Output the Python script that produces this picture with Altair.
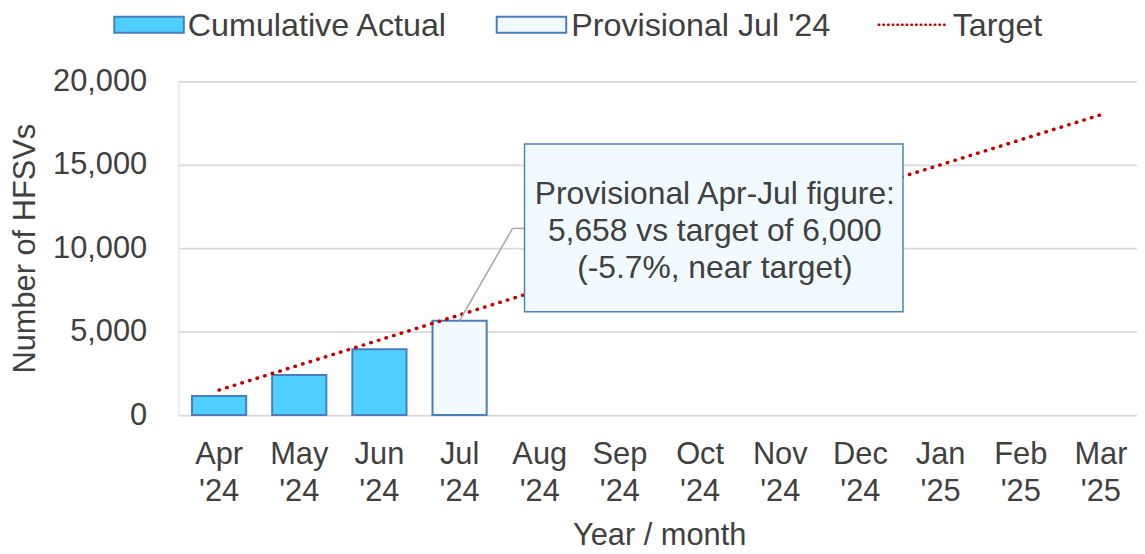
import altair as alt
import pandas as pd

# ---------------- data ----------------
months = ["Apr '24", "May '24", "Jun '24", "Jul '24", "Aug '24", "Sep '24",
          "Oct '24", "Nov '24", "Dec '24", "Jan '25", "Feb '25", "Mar '25"]
target_values = [1500, 3000, 4500, 6000, 7500, 9000,
                 10500, 12000, 13500, 15000, 16500, 18000]
actual_months = ["Apr '24", "May '24", "Jun '24", "Jul '24"]
actual_values = [1150, 2400, 3950, 5658]
actual_status = ["Cumulative Actual", "Cumulative Actual", "Cumulative Actual",
                 "Provisional Jul '24"]
y_ticks = [0, 5000, 10000, 15000, 20000]
legend_labels = ["Cumulative Actual", "Provisional Jul '24", "Target"]
note_lines = ["Provisional Apr-Jul figure:", "5,658 vs target of 6,000",
              "(-5.7%, near target)"]

# ---------------- style ----------------
FONT = "Liberation Sans"
TXT = "#404040"
GRID = "#D9D9D9"
BAR_FILL = "#4FCFFF"
PROV_FILL = "#F2FAFF"
BAR_STROKE = "#4A7EBB"
RED = "#C00000"

df_bars = pd.DataFrame({"month": actual_months, "value": actual_values,
                        "status": actual_status})
df_target = pd.DataFrame({"month": months, "value": target_values})
df_leader = df_bars[df_bars["status"] == "Provisional Jul '24"]
one = pd.DataFrame({"a": [0]})

xscale = alt.Scale(domain=months, paddingInner=0.324, paddingOuter=0.169,
                   range=[0, 969.6])
xenc = alt.X("month:N", sort=months, scale=xscale,
             axis=alt.Axis(title="Year / month", labelAngle=0,
                           labelExpr="split(datum.label, ' ')",
                           labelFontSize=31, labelLineHeight=37,
                           labelBaseline="alphabetic", labelPadding=49,
                           ticks=False, tickSize=0, domain=False, grid=False,
                           titleFontSize=31, titleFontWeight="normal",
                           titleBaseline="alphabetic", titleY=130.5,
                           titleX=484,
                           labelColor=TXT, titleColor=TXT, labelFont=FONT,
                           titleFont=FONT))
yenc = alt.Y("value:Q", scale=alt.Scale(domain=[0, 20000], nice=False),
             axis=alt.Axis(title="Number of HFSVs", values=y_ticks,
                           format=",.0f",
                           labelFontSize=31, labelPadding=32, ticks=False,
                           tickSize=0, domain=False, grid=True,
                           gridColor=GRID, gridWidth=1.8,
                           titleFontSize=31, titleFontWeight="normal",
                           titleX=-144.6, titleY=168, titleAngle=-90,
                           titleAlign="center", titleBaseline="alphabetic",
                           labelColor=TXT, titleColor=TXT, labelFont=FONT,
                           titleFont=FONT))

bars = alt.Chart(df_bars).mark_bar(stroke=BAR_STROKE, strokeWidth=2).encode(
    x=xenc, y=yenc,
    fill=alt.Fill("status:N",
                  scale=alt.Scale(domain=legend_labels[:2],
                                  range=[BAR_FILL, PROV_FILL]),
                  legend=None))

line = alt.Chart(df_target).mark_line(
    color=RED, strokeWidth=3.5, strokeDash=[0.5, 7.5], strokeCap="round"
).encode(x=xenc, y=yenc)

leader = alt.Chart(df_leader).mark_rule(color="#A6A6A6", strokeWidth=1.5).encode(
    x=xenc, y=yenc, x2=alt.value(336.4), y2=alt.value(148))
leader2 = alt.Chart(one).mark_rule(color="#A6A6A6", strokeWidth=1.5).encode(
    x=alt.value(336.4), x2=alt.value(348.4), y=alt.value(148))

box = alt.Chart(one).mark_rect(fill="#F0FAFF", stroke="#4F81BD",
                               strokeWidth=1.5).encode(
    x=alt.value(348.4), x2=alt.value(729.4), y=alt.value(63), y2=alt.value(232))
note = alt.Chart(one).mark_text(
    text=note_lines, align="center", baseline="middle", fontSize=32,
    lineHeight=37.5, font=FONT, color=TXT
).encode(x=alt.value(540), y=alt.value(113))

# ---------------- legend (drawn manually at top) ----------------
leg_rect1 = alt.Chart(one).mark_rect(fill=BAR_FILL, stroke=BAR_STROKE,
                                     strokeWidth=2).encode(
    x=alt.value(-64.6), x2=alt.value(5.4), y=alt.value(-65), y2=alt.value(-49))
leg_rect2 = alt.Chart(one).mark_rect(fill=PROV_FILL, stroke=BAR_STROKE,
                                     strokeWidth=2).encode(
    x=alt.value(320.4), x2=alt.value(390.4), y=alt.value(-65), y2=alt.value(-49))
leg_line = alt.Chart(one).mark_rule(color=RED, strokeWidth=2.5,
                                    strokeDash=[0.5, 4.2], strokeCap="round").encode(
    x=alt.value(705), x2=alt.value(773), y=alt.value(-57))

def leg_text(label, x):
    return alt.Chart(one).mark_text(
        text=label, align="left", baseline="middle", fontSize=32.5,
        font=FONT, color=TXT).encode(x=alt.value(x), y=alt.value(-56))

legend = [leg_rect1, leg_rect2, leg_line,
          leg_text(legend_labels[0], 9.4),
          leg_text(legend_labels[1], 395.4),
          leg_text(legend_labels[2], 779.4)]

chart = alt.layer(bars, line, leader, leader2, box, note, *legend).properties(
    width=965, height=336,
    padding={"left": 171.6, "top": 72, "right": 0, "bottom": 138},
    autosize=alt.AutoSizeParams(type="none"),
    background="white",
).configure_view(stroke=None).configure(font=FONT)

chart.save("out.html", embed_options={"renderer": "svg", "actions": False})
